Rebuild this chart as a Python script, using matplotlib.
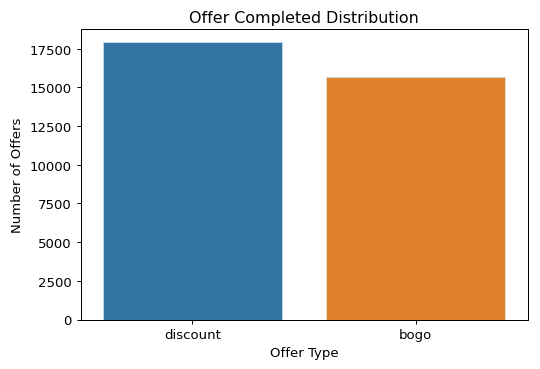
import matplotlib
matplotlib.use("Agg")
import matplotlib.pyplot as plt

plt.rcParams["font.size"] = 10.6
plt.rcParams["axes.titlesize"] = 12.7

categories = ["discount", "bogo"]
counts = [17910, 15670]
colors = ["#3274a1", "#e1812c"]

fig = plt.figure(figsize=(6, 370 / 90), dpi=90)
left, right, top, bottom = 80.5, 527.5, 30, 320.5
ax = fig.add_axes([left / 540, 1 - bottom / 370, (right - left) / 540, (bottom - top) / 370])
x = list(range(len(categories)))
ax.bar(x, counts, width=0.8, color=colors, edgecolor="#cfe0ee", linewidth=0.6)
ax.set_xticks(x)
ax.set_xticklabels(categories)
ax.set_xlim(-0.5, len(categories) - 0.5)
ax.set_ylim(0, 18770)
ax.set_yticks([0, 2500, 5000, 7500, 10000, 12500, 15000, 17500])
ax.set_title("Offer Completed Distribution")
ax.set_xlabel("Offer Type")
ax.set_ylabel("Number of Offers")
fig.savefig("out.png", dpi=90)
